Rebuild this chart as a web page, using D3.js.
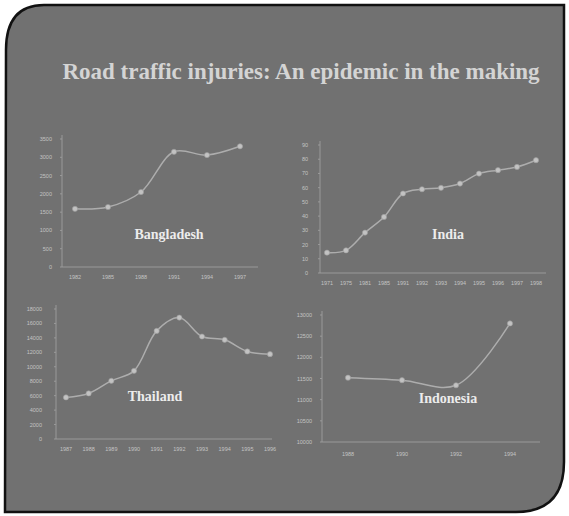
<!DOCTYPE html>
<html><head><meta charset="utf-8">
<script src="https://cdn.jsdelivr.net/npm/d3@7"></script>
<style>body{margin:0;background:#fff}svg{display:block}</style>
</head><body>
<script>
// ---- data ----
const titleText = "Road traffic injuries: An epidemic in the making";

const bangladeshYears = ["1982","1985","1988","1991","1994","1997"];
const bangladeshValues = [1590, 1640, 2050, 3150, 3060, 3300];
const bangladeshTicks = [0,500,1000,1500,2000,2500,3000,3500];

const indiaYears = ["1971","1975","1981","1985","1991","1992","1993","1994","1995","1996","1997","1998"];
const indiaValues = [14.3, 15.9, 28.4, 39.4, 55.9, 58.9, 59.9, 62.9, 69.9, 72.3, 74.6, 79.3];
const indiaTicks = [0,10,20,30,40,50,60,70,80,90];

const thailandYears = ["1987","1988","1989","1990","1991","1992","1993","1994","1995","1996"];
const thailandValues = [5760, 6310, 8060, 9440, 14970, 16810, 14190, 13730, 12120, 11750];
const thailandTicks = [0,2000,4000,6000,8000,10000,12000,14000,16000,18000];

const indonesiaYears = ["1988","1990","1992","1994"];
const indonesiaValues = [11520, 11460, 11340, 12800];
const indonesiaTicks = [10000,10500,11000,11500,12000,12500,13000];

// ---- drawing ----
const W = 569, H = 516;
const svg = d3.select("body").append("svg").attr("width", W).attr("height", H);

// slide panel
svg.append("path")
  .attr("d", "M6,50 Q6,5 44,5 L564,5 L564,462 Q564,512 516,512 L5,512 Z")
  .attr("fill", "#717171").attr("stroke", "#111").attr("stroke-width", 2.5);

svg.append("text").attr("x", 301).attr("y", 79).attr("text-anchor", "middle")
  .attr("font-family", "Liberation Serif, serif").attr("font-weight", "bold")
  .attr("font-size", 23).attr("fill", "#d4d4d4").text(titleText);

function panel(cfg) {
  const {years, values, ticks, x0, x1, y0, y1, px0, px1, name, nx, ny, labX, xLabY} = cfg;
  const g = svg.append("g");
  const x = d3.scalePoint().domain(years).range([px0, px1]);
  const y = d3.scaleLinear().domain([ticks[0], ticks[ticks.length-1]]).range([y1, y0]);
  g.append("line").attr("x1", x0).attr("x2", x0).attr("y1", y0 - 4).attr("y2", y1)
    .attr("stroke", "#9a9a9a").attr("stroke-width", 1);
  g.append("line").attr("x1", x0).attr("x2", x1).attr("y1", y1).attr("y2", y1)
    .attr("stroke", "#9a9a9a").attr("stroke-width", 1);
  g.selectAll(".yt").data(ticks).enter().append("text")
    .attr("x", labX).attr("y", d => y(d) + 2).attr("text-anchor", "end")
    .attr("font-family", "Liberation Sans, sans-serif").attr("font-size", 5.5)
    .attr("fill", "#c4c4c4").text(d => d);
  g.selectAll(".ytk").data(ticks).enter().append("line")
    .attr("x1", x0 - 2).attr("x2", x0).attr("y1", d => y(d)).attr("y2", d => y(d))
    .attr("stroke", "#9a9a9a");
  g.selectAll(".xt").data(years).enter().append("text")
    .attr("x", d => x(d)).attr("y", xLabY).attr("text-anchor", "middle")
    .attr("font-family", "Liberation Sans, sans-serif").attr("font-size", 5.5)
    .attr("fill", "#c4c4c4").text(d => d);
  const line = d3.line().x((d, i) => x(years[i])).y(d => y(d)).curve(d3.curveCatmullRom.alpha(0.5));
  g.append("path").attr("d", line(values)).attr("fill", "none")
    .attr("stroke", "#adadad").attr("stroke-width", 1.5);
  g.selectAll(".pt").data(values).enter().append("circle")
    .attr("cx", (d, i) => x(years[i])).attr("cy", d => y(d)).attr("r", 2.6)
    .attr("fill", "#c2c2c2").attr("stroke", "#9a9a9a").attr("stroke-width", 0.6);
  g.append("text").attr("x", nx).attr("y", ny).attr("text-anchor", "middle")
    .attr("font-family", "Liberation Serif, serif").attr("font-weight", "bold")
    .attr("font-size", 14).attr("fill", "#ececec").text(name);
}

panel({years: bangladeshYears, values: bangladeshValues, ticks: bangladeshTicks,
  x0: 62, x1: 258, y0: 139, y1: 267, px0: 75, px1: 240, labX: 52, xLabY: 279,
  name: "Bangladesh", nx: 169, ny: 239});
panel({years: indiaYears, values: indiaValues, ticks: indiaTicks,
  x0: 320, x1: 546, y0: 145, y1: 273, px0: 327, px1: 536, labX: 308, xLabY: 285,
  name: "India", nx: 448, ny: 239});
panel({years: thailandYears, values: thailandValues, ticks: thailandTicks,
  x0: 56, x1: 272, y0: 309, y1: 439, px0: 66, px1: 270, labX: 42, xLabY: 451,
  name: "Thailand", nx: 155, ny: 401});
panel({years: indonesiaYears, values: indonesiaValues, ticks: indonesiaTicks,
  x0: 322, x1: 540, y0: 315, y1: 442, px0: 348, px1: 510, labX: 312, xLabY: 456,
  name: "Indonesia", nx: 448, ny: 403});
</script>
</body></html>
